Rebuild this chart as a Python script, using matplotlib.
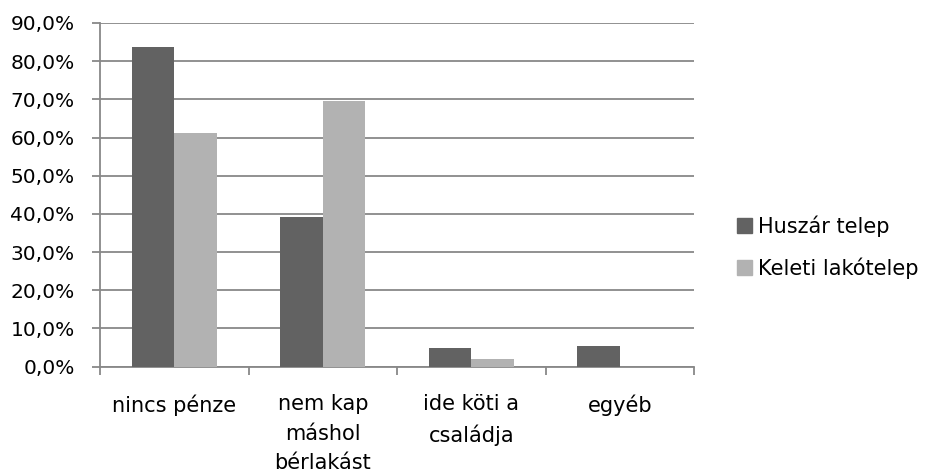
import matplotlib
matplotlib.use("Agg")
import matplotlib.pyplot as plt
import numpy as np
from matplotlib.ticker import FuncFormatter, FixedLocator, NullFormatter
from matplotlib.patches import Patch

categories = ["nincs pénze", "nem kap\nmáshol\nbérlakást", "ide köti a\ncsaládja", "egyéb"]
series_names = ["Huszár telep", "Keleti lakótelep"]
huszar = [83.6, 39.3, 4.8, 5.4]
keleti = [61.2, 69.6, 1.9, 0.0]
colors = ["#626262", "#b2b2b2"]
grid_color = "#888888"

plt.rcParams['font.family'] = ['DejaVu Sans']
fig = plt.figure(figsize=(9.29, 4.75), dpi=100)
ax = fig.add_axes([100/929, 1-366.5/475, 594/929, 343.5/475])

n = len(categories)
x = np.arange(n)
w = 0.286
ax.bar(x - w/2, huszar, w, color=colors[0], zorder=3)
ax.bar(x + w/2, keleti, w, color=colors[1], zorder=3)

ax.set_xlim(-0.5, n - 0.5)
ax.set_ylim(0, 90)
ax.set_yticks(np.arange(0, 91, 10))
ax.yaxis.set_major_formatter(FuncFormatter(lambda v, p: f"{v:.1f}%".replace(".", ",")))
ax.yaxis.grid(True, color=grid_color, linewidth=1.3, zorder=0)
ax.tick_params(axis='y', length=5.8, color=grid_color, width=1.3, labelsize=14.5, pad=12.5)

ax.xaxis.set_major_locator(FixedLocator(np.arange(-0.5, n, 1.0)))
ax.xaxis.set_major_formatter(NullFormatter())
ax.xaxis.set_minor_locator(FixedLocator(x))
ax.set_xticklabels(categories, minor=True, linespacing=1.6)
ax.tick_params(axis='x', which='major', length=5.8, color=grid_color, width=1.3)
ax.tick_params(axis='x', which='minor', length=0, labelsize=15, pad=20)

for s in ['top', 'right']:
    ax.spines[s].set_visible(False)
for s in ['left', 'bottom']:
    ax.spines[s].set_color(grid_color)
    ax.spines[s].set_linewidth(1.3)
ax.set_axisbelow(True)

handles = [Patch(color=colors[0], label=series_names[0]), Patch(color=colors[1], label=series_names[1])]
fig.legend(handles=handles, loc='center left', bbox_to_anchor=(737/929, 1-247/475), frameon=False,
           fontsize=15, handlelength=0.72, handleheight=0.72, handletextpad=0.29, labelspacing=1.0,
           borderpad=0, borderaxespad=0)

fig.savefig("out.png", dpi=100, facecolor="white")
